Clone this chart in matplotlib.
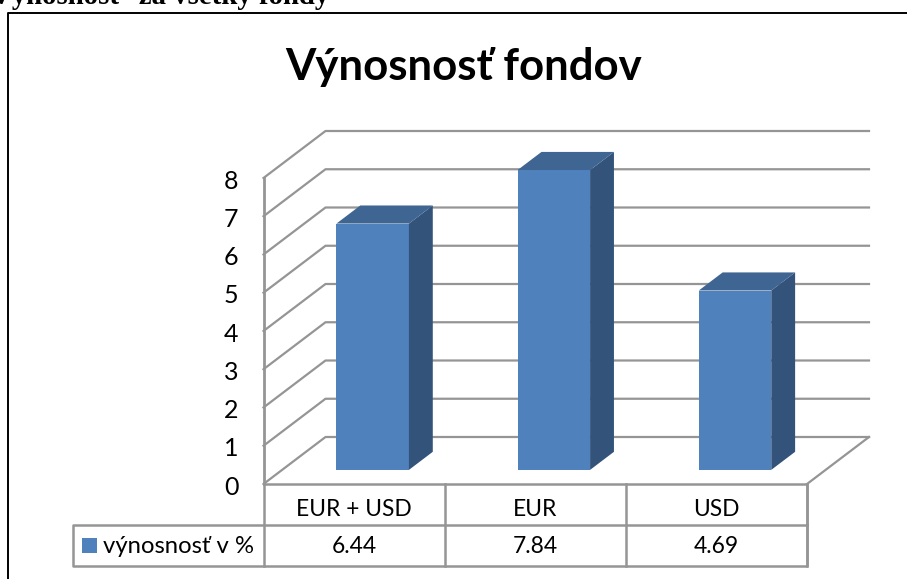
import matplotlib
matplotlib.use('Agg')
import matplotlib.pyplot as plt
from matplotlib.patches import Polygon, Rectangle

categories = ['EUR + USD', 'EUR', 'USD']
values = [6.44, 7.84, 4.69]
value_labels = ['6.44', '7.84', '4.69']
y_ticks = [0, 1, 2, 3, 4, 5, 6, 7, 8]
series_name = 'výnosnosť v %'
title = 'Výnosnosť fondov'
heading = 'Výnosnosť  za všetky fondy'

W, H = 907, 579
FONT = ['Lato', 'DejaVu Sans']
GREY = '#959595'
FRONT = '#4f81bd'
SIDE = '#33537a'
TOP = '#3f6592'

fig = plt.figure(figsize=(W / 100, H / 100), dpi=100, facecolor='white')

# pixel overlay for the page frame and the texts around the chart
page = fig.add_axes([0, 0, 1, 1])
page.set_xlim(0, W)
page.set_ylim(H, 0)
page.axis('off')
page.plot([7.5, 7.5, 907], [579, 13, 13], color='black', lw=1.4)
page.text(-9, 4, heading, fontsize=20.7, family='Liberation Serif',
          weight='bold', va='baseline', ha='left')
page.text(463.5, 67, title, fontsize=31.5, family=FONT, weight='bold',
          ha='center', va='center')

# chart axes: x in categories, y in value units
x0, x1, y0, y8 = 263.5, 807, 484, 178
ax = fig.add_axes([x0 / W, 1 - y0 / H, (x1 - x0) / W, (y0 - y8) / H])
ax.set_xlim(0, len(categories))
ax.set_ylim(0, 8)
ax.axis('off')
ax.patch.set_alpha(0)

n = len(categories)
px_x = (x1 - x0) / n     # pixels per category
px_y = (y0 - y8) / 8     # pixels per value
dx = 62 / px_x           # depth of the box, in categories
dy = 47 / px_y           # depth of the box, in values

for t in y_ticks:
    ax.plot([0, dx, n + dx], [t, t + dy, t + dy], color=GREY, lw=1.6, clip_on=False)
    ax.text(-25 / px_x, t - 0.08, str(t), fontsize=18, family=FONT, ha='right', va='center')
ax.plot([0, 0], [0, 8], color=GREY, lw=2, clip_on=False)
ax.plot([n, n + dx], [0, dy], color=GREY, lw=1.6, clip_on=False)

# bars
width = 0.4
d_start, d_end = 0.3, 0.685
for i, v in enumerate(values):
    l = i + 0.5 - width / 2 + dx * d_start
    r = l + width
    b = dy * d_start
    t = b + v
    ddx = dx * (d_end - d_start)
    ddy = dy * (d_end - d_start)
    ax.add_patch(Rectangle((l, b), width, v, fc=FRONT, ec='none', clip_on=False, zorder=3))
    ax.add_patch(Polygon([(r, b), (r + ddx, b + ddy), (r + ddx, t + ddy), (r, t)],
                         fc=SIDE, ec='none', clip_on=False, zorder=3))
    ax.add_patch(Polygon([(l, t), (r, t), (r + ddx, t + ddy), (l + ddx, t + ddy)],
                         fc=TOP, ec='none', clip_on=False, zorder=3))

# data table below the plot
row = 41 / px_y
row2 = 2 * row
leg_left = (73 - x0) / px_x
ax.plot([0, n, n, leg_left, leg_left, n], [0, 0, -row2, -row2, -row, -row],
        color=GREY, lw=1.8, clip_on=False)
for i in range(n + 1):
    ax.plot([i, i], [0, -row2], color=GREY, lw=1.8, clip_on=False)
for i, (c, s) in enumerate(zip(categories, value_labels)):
    ax.text(i + 0.5, -row / 2 - 5 / px_y, c, fontsize=16.4, family=FONT, ha='center', va='center')
    ax.text(i + 0.5, -row * 1.5 - 0.03, s, fontsize=16.4, family=FONT, ha='center', va='center')
ax.add_patch(Rectangle((leg_left + 9 / px_x, -row * 1.5 - 7.5 / px_y), 15 / px_x, 15 / px_y,
                       fc=FRONT, ec='none', clip_on=False))
ax.text(leg_left + 30 / px_x, -row * 1.5 - 0.03, series_name, fontsize=17.2,
        family=FONT, ha='left', va='center')

fig.savefig('out.png', dpi=100)
